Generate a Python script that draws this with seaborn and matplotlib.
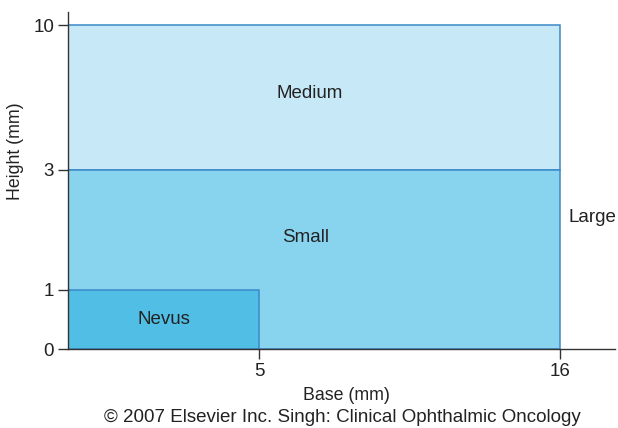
import numpy as np
import matplotlib
matplotlib.use("Agg")
import matplotlib.pyplot as plt
import seaborn as sns

# Data
categories = ["Medium", "Small", "Nevus"]
base_start = [0, 0, 0]
base_end = [16, 16, 5]
height_start = [3, 0, 0]
height_end = [10, 3, 1]
x_ticks = [5, 16]
y_ticks = [0, 1, 3, 10]

sns.set_theme(style="ticks")
plt.rcParams['font.family'] = ['Liberation Sans', 'DejaVu Sans']

FS = 13.5
FL = 12.8
W, H = 618, 428
fig = plt.figure(figsize=(W / 100, H / 100), dpi=100)
# axes from x=68..615 px, y=12..349 px
ax = fig.add_axes([68 / W, (H - 349) / H, (615 - 68) / W, (349 - 12) / H])

# piecewise scales
xk_d = [0, 5, 16, 18]
xk_p = [0, 191, 492, 547]
yk_d = [0, 1, 3, 10, 11]
yk_p = [0, 59, 179, 324, 337]


def fx(v):
    return np.interp(v, xk_d, xk_p)


def ix(v):
    return np.interp(v, xk_p, xk_d)


def fy(v):
    return np.interp(v, yk_d, yk_p)


def iy(v):
    return np.interp(v, yk_p, yk_d)


ax.set_xscale("function", functions=(fx, ix))
ax.set_yscale("function", functions=(fy, iy))
ax.set_xlim(0, 18)
ax.set_ylim(0, 11)

fills = {"Medium": "#C7E8F7", "Small": "#88D4EF", "Nevus": "#51BFE5"}
edge = "#3A89C6"
for c, x0, x1, y0, y1 in zip(categories, base_start, base_end, height_start, height_end):
    ax.bar(x0, y1 - y0, width=x1 - x0, bottom=y0, align="edge",
           color=fills[c], edgecolor=edge, linewidth=1.1, zorder=2)

tc = "#222222"
ax.text(6.85, 6.7, "Medium", ha="center", va="center", fontsize=FS, color=tc)
ax.text(6.7, 1.87, "Small", ha="center", va="center", fontsize=FS, color=tc)
ax.text(2.5, 0.5, "Nevus", ha="center", va="center", fontsize=FS, color=tc)
ax.text(16.3, 2.2, "Large", ha="left", va="center", fontsize=FS, color=tc)

ax.set_xticks(x_ticks)
ax.set_yticks(y_ticks)
ax.set_xticklabels([str(v) for v in x_ticks])
ax.set_yticklabels([str(v) for v in y_ticks])
ax.tick_params(axis="both", length=7, width=1, color="#333333", labelsize=FS,
               labelcolor=tc, pad=3)
for s in ["top", "right"]:
    ax.spines[s].set_visible(False)
for s in ["left", "bottom"]:
    ax.spines[s].set_color("#333333")
    ax.spines[s].set_linewidth(1)
    ax.spines[s].set_zorder(3)

ax.set_xlabel("Base (mm)", fontsize=FL, color=tc)
ax.set_ylabel("Height (mm)", fontsize=FL, color=tc)
ax.xaxis.set_label_coords((346 - 68) / (615 - 68), -(395 - 349) / (349 - 12))
ax.yaxis.set_label_coords(-(68 - 16) / (615 - 68), (349 - 151) / (349 - 12))
ax.xaxis.label.set_va("center")
ax.yaxis.label.set_va("center")

fig.text(342 / W, 1 - 417 / H, "\u00a9 2007 Elsevier Inc. Singh: Clinical Ophthalmic Oncology",
         ha="center", va="center", fontsize=FS, color=tc)

fig.savefig("out.png", dpi=100)
